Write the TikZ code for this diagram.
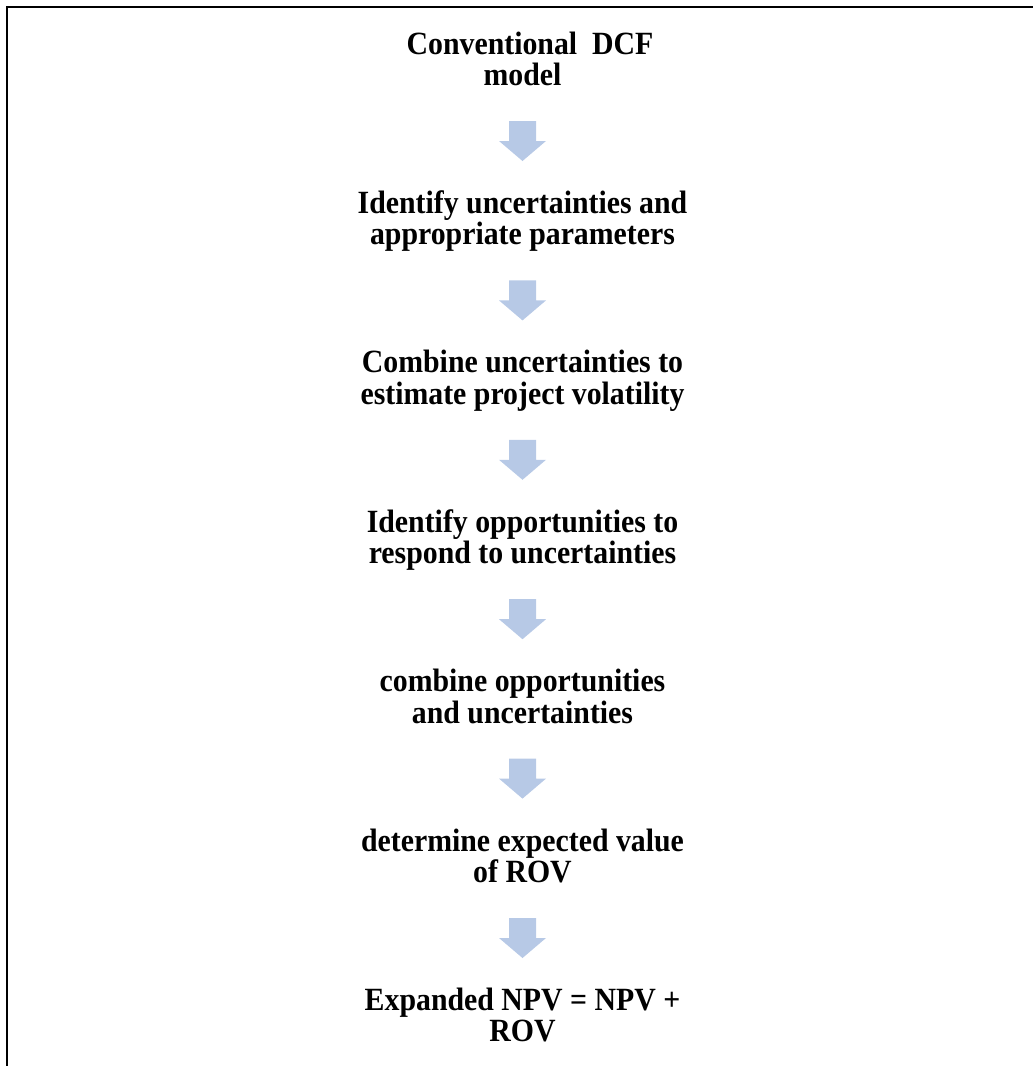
\documentclass[tikz,border=0pt]{standalone}
\usepackage{fontspec}
\setmainfont{Liberation Serif}
\newfontfamily\stepfont[FakeStretch=0.92]{Liberation Serif}
\definecolor{arrowblue}{RGB}{183,201,230}
\begin{document}
\begin{tikzpicture}[x=1pt,y=-1pt,
  stepbox/.style={font=\stepfont\bfseries\fontsize{32.4}{31.5}\selectfont, align=center, anchor=base, inner sep=0pt},
  blockarrow/.style={fill=arrowblue, draw=none}]
\useasboundingbox (0,0) rectangle (1033,1066);
\draw[line width=2pt] (7,1066) -- (7,7) -- (1033,7);

% nodes anchored at the baseline of their last line
\node[stepbox] (s1) at (522.5,85.5) {\hspace*{15pt}Conventional\ \ DCF\\model};
\node[stepbox] (s2) at (522.5,244.9) {Identify uncertainties and\\appropriate parameters};
\node[stepbox] (s3) at (522.5,404.3) {Combine uncertainties to\\estimate project volatility};
\node[stepbox] (s4) at (522.5,563.7) {Identify opportunities to\\respond to uncertainties};
\node[stepbox] (s5) at (522.5,723.1) {combine opportunities\\and uncertainties};
\node[stepbox] (s6) at (522.5,882.5) {determine expected value\\of ROV};
\node[stepbox] (s7) at (522.5,1041.9) {Expanded NPV = NPV +\\ROV};

% block arrows: coordinate at the base of each arrow head
\coordinate (a1) at (522.5,141);
\coordinate (a2) at (522.5,300.4);
\coordinate (a3) at (522.5,459.8);
\coordinate (a4) at (522.5,619.2);
\coordinate (a5) at (522.5,778.6);
\coordinate (a6) at (522.5,938);
\foreach \a in {a1,a2,a3,a4,a5,a6}{
  \fill[blockarrow, shift={(\a)}] (-13.5,-20) -- (13.5,-20) -- (13.5,0) -- (23.5,0)
    -- (0,20) -- (-23.5,0) -- (-13.5,0) -- cycle;
}
\end{tikzpicture}
\end{document}
